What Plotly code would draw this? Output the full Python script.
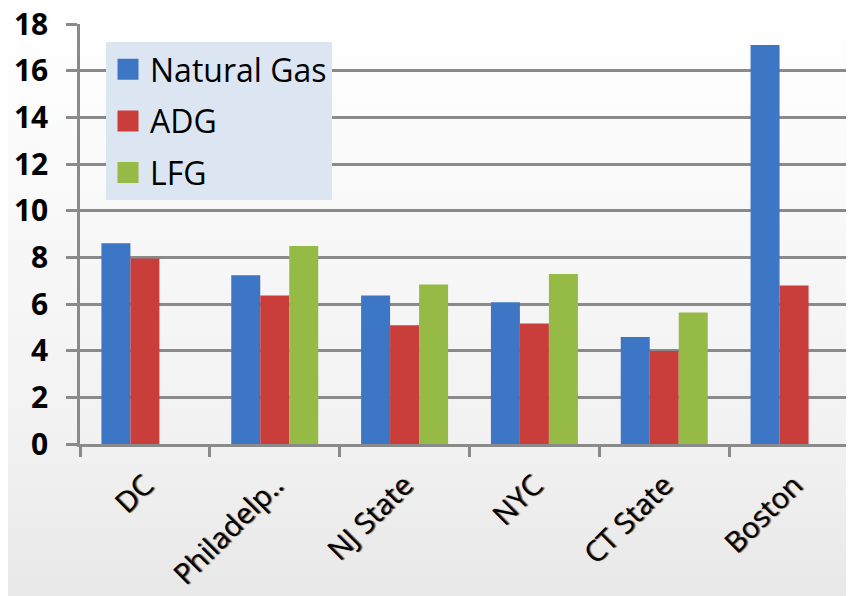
import base64
import plotly.graph_objects as go

categories = ["DC", "Philadelp..", "NJ State", "NYC", "CT State", "Boston"]
natural_gas = [8.6, 7.23, 6.36, 6.07, 4.59, 17.1]
adg = [7.95, 6.36, 5.09, 5.16, 3.99, 6.79]
lfg = [None, 8.49, 6.84, 7.29, 5.64, None]
series_names = ["Natural Gas", "ADG", "LFG"]
y_ticks = [0, 2, 4, 6, 8, 10, 12, 14, 16, 18]

colors = ["#3d76c4", "#c93d3b", "#95ba45"]

fig = go.Figure()
for name, vals, col in zip(series_names, [natural_gas, adg, lfg], colors):
    fig.add_trace(go.Bar(
        x=categories, y=vals, name=name, legendgroup=name, showlegend=False,
        marker=dict(color=col, line=dict(width=0)),
    ))
    # legend swatch (larger square than the default bar swatch)
    fig.add_trace(go.Scatter(
        x=[None], y=[None], name=name, legendgroup=name, mode="markers",
        marker=dict(symbol="square", size=16, color=col,
                    line=dict(width=5, color=col)),
        hoverinfo="skip",
    ))

svg = (
    '<svg xmlns="http://www.w3.org/2000/svg" width="854" height="596">'
    '<defs><linearGradient id="g" x1="0" y1="0" x2="0" y2="1">'
    '<stop offset="0" stop-color="#ffffff"/>'
    '<stop offset="0.75" stop-color="#f1f1f1"/>'
    '<stop offset="1" stop-color="#e8e8e8"/>'
    '</linearGradient></defs>'
    '<rect width="854" height="596" fill="url(#g)"/></svg>'
)
uri = "data:image/svg+xml;base64," + base64.b64encode(svg.encode()).decode()

W, H = 846, 588
ml, mr, mt, mb = 72, 0, 16, 152
pw, ph = W - ml - mr, H - mt - mb

fig.update_layout(
    width=W, height=H,
    margin=dict(l=ml, r=mr, t=mt, b=mb, pad=0, autoexpand=False),
    paper_bgcolor="#ffffff",
    plot_bgcolor="rgba(0,0,0,0)",
    barmode="group",
    bargap=0.33,
    bargroupgap=0,
    font=dict(family="Open Sans, Noto Sans, sans-serif", color="#000000"),
    images=[dict(
        source=uri, xref="paper", yref="paper",
        x=-ml / pw, y=1 + mt / ph, sizex=W / pw, sizey=H / ph,
        xanchor="left", yanchor="top", sizing="stretch", layer="below",
    )],
    legend=dict(
        x=26 / pw, y=(436 - 34) / ph, xanchor="left", yanchor="top",
        bgcolor="#dce6f2", borderwidth=0,
        font=dict(size=32, family="Open Sans, sans-serif", color="#000000"),
        traceorder="grouped", tracegroupgap=7,
        itemwidth=34,
        itemclick=False, itemdoubleclick=False,
    ),
    xaxis=dict(
        type="category",
        range=[-0.5, 5.5 - 5 / 130],
        automargin=False,
        showgrid=False,
        showline=True, linecolor="#8a8a8a", linewidth=2.5,
        ticks="outside", tickson="boundaries", ticklen=10, tickwidth=2.5,
        tickcolor="#8a8a8a",
        tickangle=-45,
        ticklabelstandoff=10,
        ticklabeloverflow="allow",
        tickfont=dict(size=29, family="Open Sans, sans-serif", color="#000000",
                      shadow="1px 1px 1px #555555"),
    ),
    yaxis=dict(
        range=[0, 18],
        automargin=False,
        tickvals=y_ticks,
        ticktext=[str(v) for v in y_ticks],
        showgrid=True, gridcolor="#8a8a8a", gridwidth=2.5,
        showline=True, linecolor="#8a8a8a", linewidth=2.5,
        ticks="outside", ticklen=11, tickwidth=2.5, tickcolor="#8a8a8a",
        ticklabelstandoff=12,
        ticklabeloverflow="allow",
        zeroline=False,
        tickfont=dict(size=30, family="Open Sans, sans-serif", weight="bold",
                      color="#000000"),
    ),
)

fig.write_html("out.html")
